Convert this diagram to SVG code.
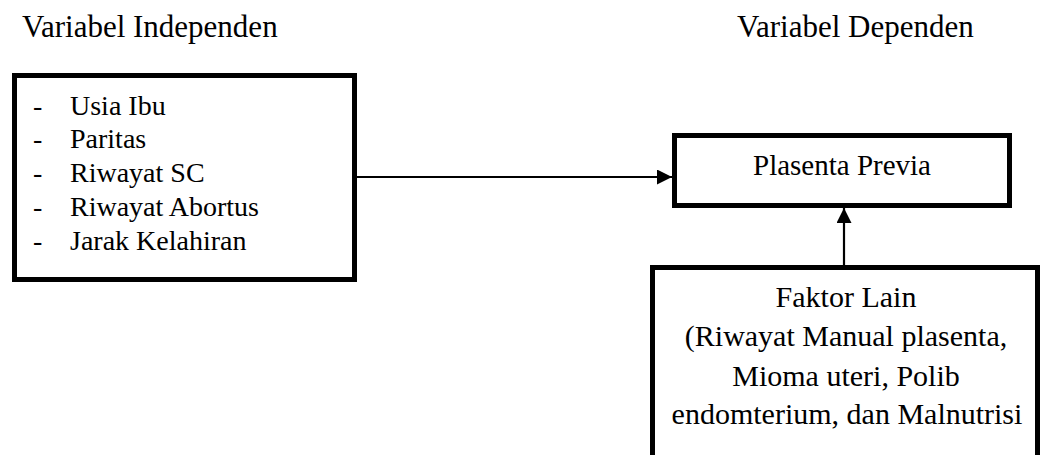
<svg xmlns="http://www.w3.org/2000/svg" width="1040" height="455" viewBox="0 0 1040 455">
  <defs>
    <style>
      .t { font-family: "Liberation Serif", "Times New Roman", serif; fill: #000; }
      .title { font-size: 31px; }
      .item { font-size: 28px; }
      .label { font-size: 29px; text-anchor: middle; }
      .box { fill: #fff; stroke: #000; stroke-width: 5; }
      .edge { fill: none; stroke: #000; stroke-width: 2.2; }
    </style>
    <marker id="arrow" viewBox="0 0 15 15" refX="15" refY="7.5" markerWidth="15" markerHeight="15" markerUnits="userSpaceOnUse" orient="auto">
      <path d="M0,0 L15,7.5 L0,15 Z" fill="#000"/>
    </marker>
  </defs>

  <rect width="1040" height="455" fill="#fff"/>

  <!-- column headings -->
  <text class="t title" x="22" y="37">Variabel Independen</text>
  <text class="t title" x="737" y="37">Variabel Dependen</text>

  <!-- independent variables -->
  <g id="independen">
    <rect class="box" x="14.5" y="75.5" width="340" height="204"/>
    <g class="t item">
      <text x="33" y="115">-</text><text x="70" y="115">Usia Ibu</text>
      <text x="33" y="148">-</text><text x="70" y="148">Paritas</text>
      <text x="33" y="182">-</text><text x="70" y="182">Riwayat SC</text>
      <text x="33" y="216">-</text><text x="70" y="216">Riwayat Abortus</text>
      <text x="33" y="250">-</text><text x="70" y="250">Jarak Kelahiran</text>
    </g>
  </g>

  <!-- dependent variable -->
  <g id="plasenta-previa">
    <rect class="box" x="674.5" y="135.5" width="335" height="70"/>
    <text class="t label" x="842" y="175">Plasenta Previa</text>
  </g>

  <!-- other factors -->
  <g id="faktor-lain">
    <rect class="box" x="652.5" y="267.5" width="385" height="200"/>
    <g class="t label" style="font-size:30px">
      <text x="846" y="307">Faktor Lain</text>
      <text x="846" y="346">(Riwayat Manual plasenta,</text>
      <text x="846" y="386">Mioma uteri, Polib</text>
      <text x="847" y="424">endomterium, dan Malnutrisi</text>
    </g>
  </g>

  <!-- connectors -->
  <g id="connectors">
    <line class="edge" x1="357" y1="177" x2="672" y2="177" marker-end="url(#arrow)"/>
    <line class="edge" x1="844" y1="265" x2="844" y2="208" marker-end="url(#arrow)"/>
  </g>
</svg>
